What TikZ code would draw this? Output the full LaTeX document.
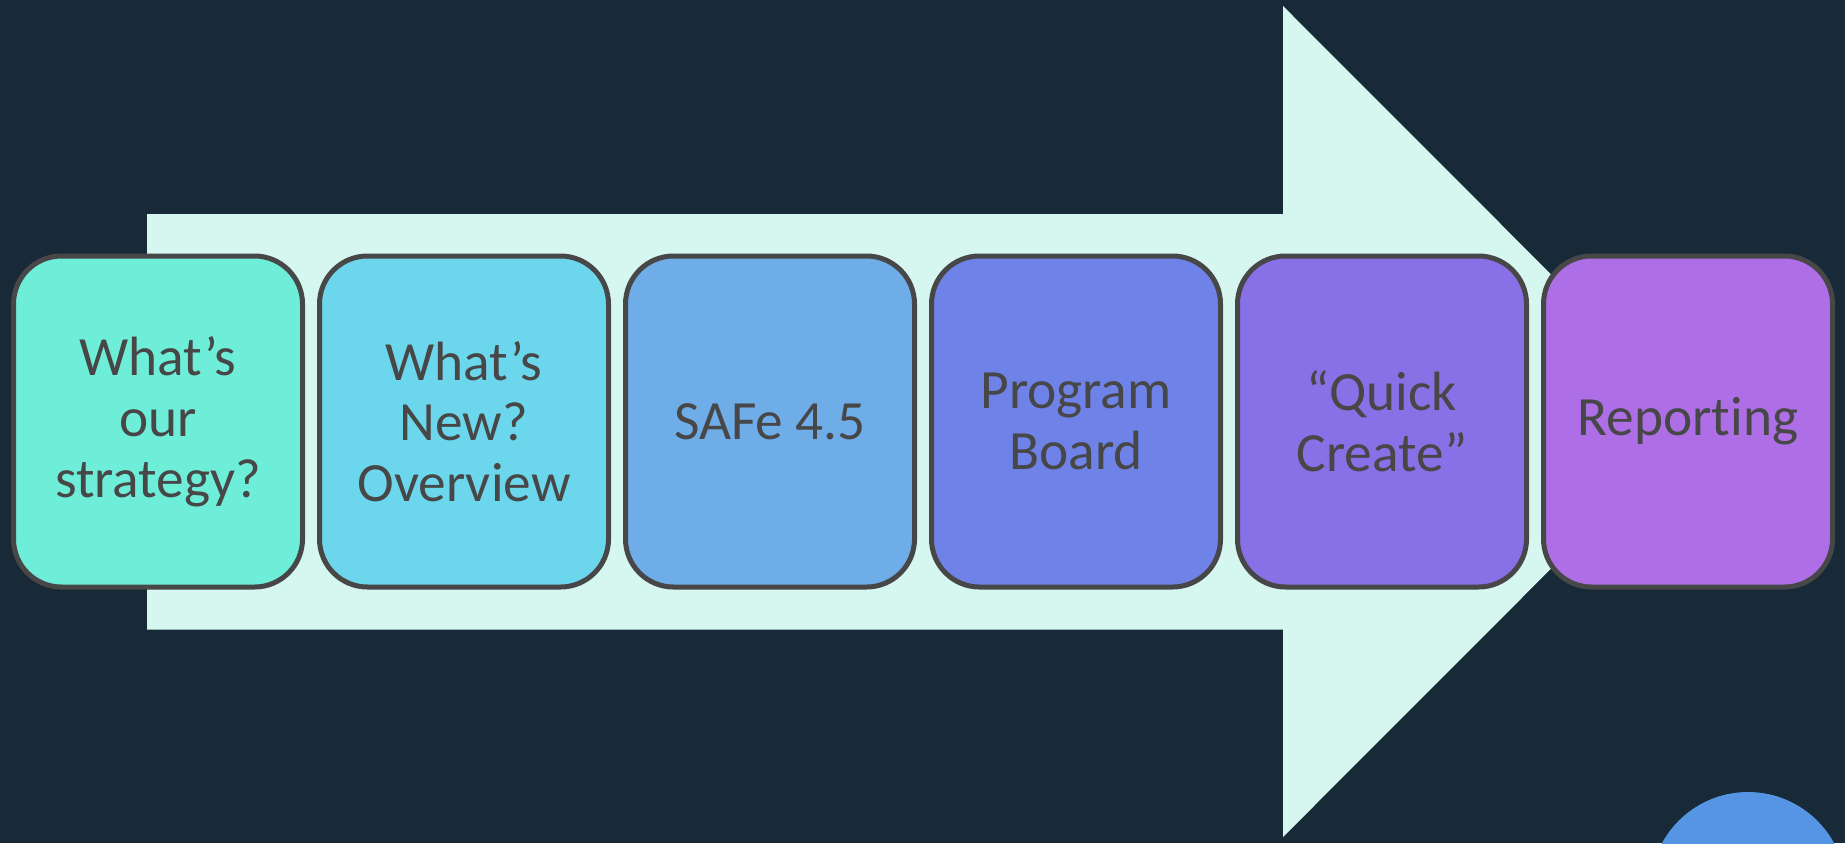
\documentclass[tikz,border=0pt]{standalone}
\usepackage{fontspec}
\setmainfont{Carlito}[Ligatures={NoCommon,NoContextual}, Contextuals=NoAlternate]

\definecolor{bgnavy}{HTML}{182938}
\definecolor{arrowmint}{HTML}{D5F7F0}
\definecolor{edgegray}{HTML}{474747}
\definecolor{stepone}{HTML}{6EEED8}
\definecolor{steptwo}{HTML}{6CD6EC}
\definecolor{stepthree}{HTML}{6EADE8}
\definecolor{stepfour}{HTML}{6E82E8}
\definecolor{stepfive}{HTML}{8870E6}
\definecolor{stepsix}{HTML}{AD6EE6}
\definecolor{dotblue}{HTML}{5595E3}

\begin{document}
\begin{tikzpicture}[x=0.02cm, y=-0.02cm]
    \tikzset{
        stagebox/.style={
            draw=edgegray,
            line width=5*0.02cm,
            fill=#1,
            rounded corners=48*0.02cm,
            minimum width=289*0.02cm,
            minimum height=331*0.02cm,
            inner sep=0pt,
            align=center,
            text=edgegray,
            font=\fontsize{31.5}{34.6}\selectfont,
        },
    }

    % Background
    \path[use as bounding box, fill=bgnavy] (0,0) rectangle (1845,843);
    \clip (0,0) rectangle (1845,843);

    % Big arrow
    \fill[arrowmint] (147,214) -- (1283,214) -- (1283,6) -- (1698,421.5)
        -- (1283,837) -- (1283,629.5) -- (147,629.5) -- cycle;

    % Corner dot
    \fill[dotblue] (1748,890) circle (98);

    % Stages
    \node[stagebox=stepone]   (strategy) at (158,421.5)  {What’s\\our\\strategy?};
    \node[stagebox=steptwo]   (whatsnew) at (464,421.5)  {What’s\\New?\\Overview};
    \node[stagebox=stepthree] (safe)     at (770,421.5)  {SAFe 4.5};
    \node[stagebox=stepfour]  (board)    at (1076,421.5) {Program\\Board};
    \node[stagebox=stepfive]  (quick)    at (1382,421.5) {“Quick\\Create”};
    \node[stagebox=stepsix]   (report)   at (1688,421.5) {Reporting};

\end{tikzpicture}
\end{document}
